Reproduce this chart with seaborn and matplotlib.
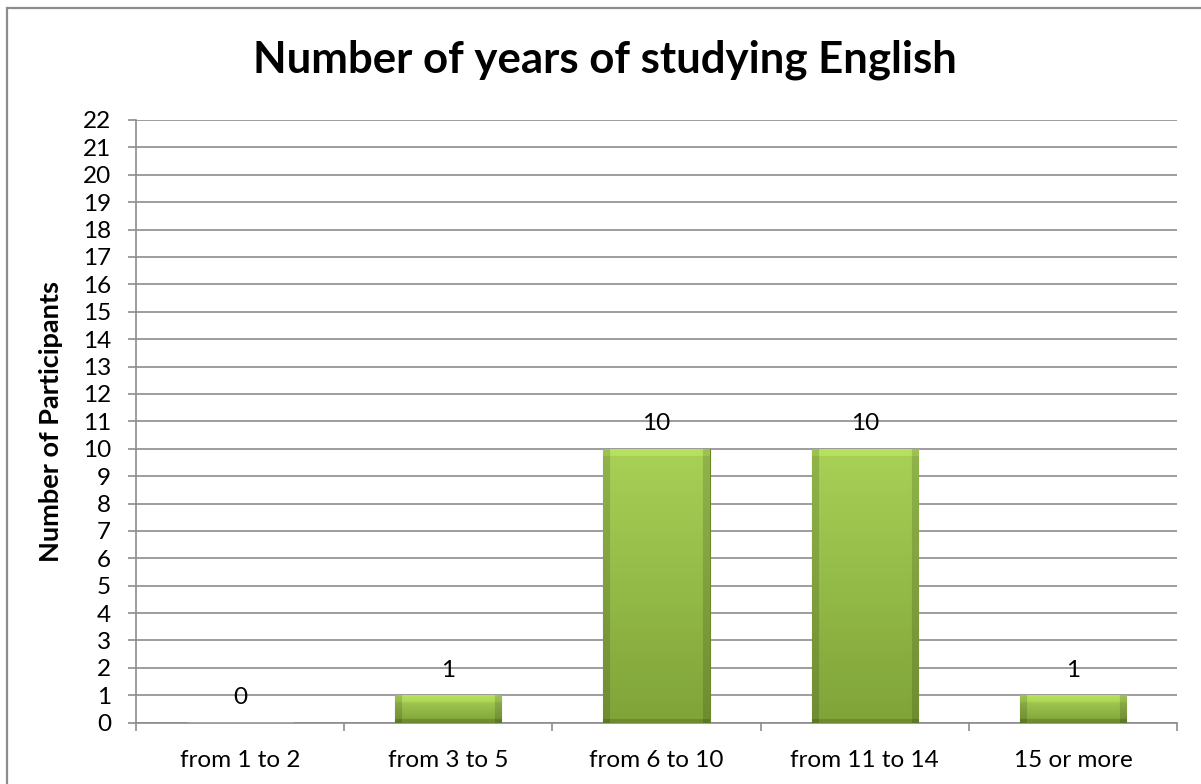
import numpy as np
import pandas as pd
import matplotlib
matplotlib.use("Agg")
import matplotlib.pyplot as plt
import seaborn as sns
from matplotlib.patches import Rectangle

# Data
categories = ["from 1 to 2", "from 3 to 5", "from 6 to 10", "from 11 to 14", "15 or more"]
participants = [0, 1, 10, 10, 1]
y_ticks = list(range(0, 23))

sns.set_theme(style="white")
plt.rcParams['font.family'] = ['Lato', 'DejaVu Sans']
plt.rcParams['text.color'] = 'black'
plt.rcParams['axes.labelcolor'] = 'black'
plt.rcParams['xtick.labelcolor'] = 'black'
plt.rcParams['ytick.labelcolor'] = 'black'

df = pd.DataFrame({'years': categories, 'count': participants})

fig = plt.figure(figsize=(12.01, 7.84), dpi=100)
ax = fig.add_axes([0.1132, 0.0782, 0.8668, 0.7688])

sns.barplot(x='years', y='count', data=df, color='#95bb47', width=0.51,
            saturation=1, ax=ax, zorder=3)

ax.set_ylim(0, 22)
ax.set_xlim(-0.5, len(categories) - 0.5)
ax.set_yticks(y_ticks)
ax.set_yticklabels([str(t) for t in y_ticks], fontsize=17.5, color='black')
ax.set_xticks(range(len(categories)))
ax.set_xticklabels(categories, fontsize=17.5, color='black')

# gridlines + axes styling
grid_col = '#8c8c8c'
ax.yaxis.grid(True, color=grid_col, linewidth=1.2, zorder=0)
ax.set_axisbelow(True)
for side in ['top', 'right']:
    ax.spines[side].set_visible(False)
for side in ['left', 'bottom']:
    ax.spines[side].set_color(grid_col)
    ax.spines[side].set_linewidth(1.2)
ax.tick_params(axis='y', direction='out', length=6, width=1.2, color=grid_col, pad=12, left=True)
ax.tick_params(axis='x', length=0, pad=20)
# x ticks at category boundaries
ax.set_xticks(np.arange(-0.5, len(categories)), minor=True)
ax.tick_params(axis='x', which='minor', direction='out', length=6, width=1.2,
               color=grid_col, bottom=True)

ax.set_xlabel('')
ax.set_ylabel('Number of Participants', fontsize=19.5, fontweight='bold', color='black')
ax.yaxis.set_label_coords(-0.07, 0.5)

# bevel-like gradient fill for each bar
fig.canvas.draw()
for patch in ax.patches:
    x0, y0 = patch.get_x(), patch.get_y()
    w, h = patch.get_width(), patch.get_height()
    if h <= 0:
        continue
    p0 = ax.transData.transform((x0, y0))
    p1 = ax.transData.transform((x0 + w, y0 + h))
    wpx = max(int(round(p1[0] - p0[0])), 2)
    hpx = max(int(round(p1[1] - p0[1])), 2)
    top = np.array([0.66, 0.82, 0.34])
    bot = np.array([0.50, 0.64, 0.22])
    t = np.linspace(0, 1, hpx)[:, None]
    img = np.ones((hpx, wpx, 3)) * (top * (1 - t) + bot * t)[:, None, :]
    bev = 7
    cols = np.arange(wpx)
    rows = np.arange(hpx)
    # darker sides
    side = (cols < bev) | (cols >= wpx - bev)
    img[:, side, :] *= 0.86
    # lighter top bevel
    topb = rows < min(bev, hpx // 3)
    img[topb, :, :] = np.clip(img[topb, :, :] * 1.08, 0, 1)
    # darker bottom bevel
    botb = rows >= hpx - min(4, hpx // 6)
    img[botb, :, :] *= 0.85
    im = ax.imshow(img, extent=[x0, x0 + w, y0, y0 + h], aspect='auto',
                   origin='upper', zorder=4, interpolation='bilinear')
    im.set_clip_path(patch)
    patch.set_edgecolor('#6a8a28')
    patch.set_linewidth(0.8)

ax.set_xlim(-0.5, len(categories) - 0.5)
ax.set_ylim(0, 22)

for i, v in enumerate(participants):
    ax.annotate(str(v), (i, v), xytext=(0, 18), textcoords='offset points',
                ha='center', va='center', fontsize=17.5, color='black', zorder=5)

fig.text(0.504, 0.907, 'Number of years of studying English', ha='center', va='baseline',
         fontsize=31.5, fontweight='bold', color='black')

# chart border
fig.patches.append(Rectangle((6.5 / 1201, -0.05), 1.1, (784 - 7.5) / 784 + 0.05,
                             transform=fig.transFigure, fill=False,
                             edgecolor='#8c8c8c', linewidth=1.6, zorder=0))

fig.savefig('out.png', dpi=100, facecolor='white')
